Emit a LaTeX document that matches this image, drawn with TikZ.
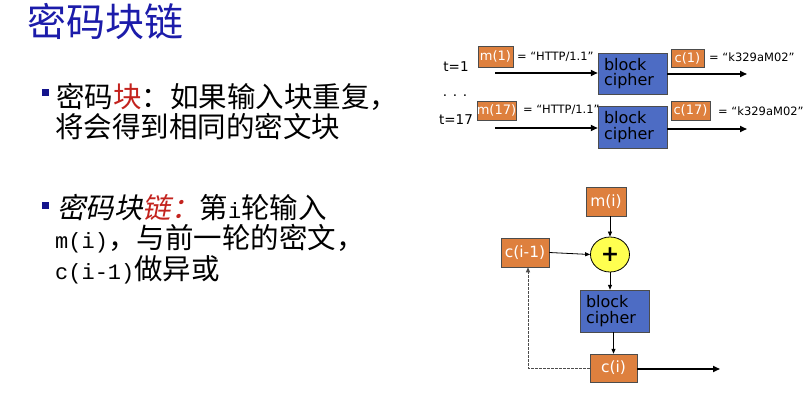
\documentclass[tikz,border=0pt]{standalone}
\usepackage{fontspec}
\setmainfont{Noto Sans CJK SC}
\newfontfamily\cjkit{Noto Sans CJK SC}[FakeSlant=0.2]
\newfontfamily\boxfont{DejaVu Sans}
\newfontfamily\monofnt{Liberation Mono}
\usetikzlibrary{arrows.meta,shapes.geometric}
\definecolor{boxorange}{RGB}{222,128,62}
\definecolor{boxblue}{RGB}{77,108,196}
\definecolor{titleblue}{RGB}{28,28,170}
\definecolor{redtxt}{RGB}{195,35,30}
\definecolor{bulletblue}{RGB}{20,20,140}
\definecolor{xoryellow}{RGB}{255,255,80}
\tikzset{
  orangebox/.style={rectangle, fill=boxorange, draw=gray!60!black, line width=0.5pt, text=white,
    font=\boxfont\fontsize{13}{15}\selectfont, inner sep=0pt},
  cipherbox/.style={rectangle, fill=boxblue, draw=gray!60!black, line width=0.5pt, text=black,
    font=\boxfont\fontsize{16}{15.5}\selectfont, inner xsep=6pt, text width=57pt, align=left,
    minimum height=41pt},
  eqtext/.style={font=\boxfont\fontsize{11.5}{13}\selectfont, anchor=west, inner sep=0pt},
  ttext/.style={font=\boxfont\fontsize{13.5}{15}\selectfont, inner sep=0pt},
  body/.style={font=\fontsize{28.5}{30}\selectfont, anchor=west, inner sep=0pt},
  bulletsq/.style={rectangle, fill=bulletblue, minimum size=7pt, inner sep=0pt},
  bigarrow/.style={line width=1.6pt, -{Triangle[length=7pt,width=6pt]}},
  thinarrow/.style={line width=0.8pt, -{Triangle[length=5pt,width=4pt]}},
  feedback/.style={line width=0.9pt, dashed, dash pattern=on 2.5pt off 1.5pt, draw=black!70,
    -{Triangle[length=5pt,width=4pt]}}
}
\newcommand{\mono}[1]{{\monofnt\fontsize{22}{30}\selectfont #1}}
\begin{document}
\begin{tikzpicture}[x=1pt,y=-1pt]
\useasboundingbox (0,0) rectangle (804,401);
% title
\node[font=\fontsize{39}{40}\selectfont, text=titleblue, anchor=west, inner sep=0pt] (title) at (27,22) {密码块链};
% bullets
\node[bulletsq] (b1) at (45,93) {};
\node[body] (l1) at (56,97) {密码{\color{redtxt}块}：如果输入块重复，};
\node[body] (l2) at (55,127) {将会得到相同的密文块};
\node[bulletsq] (b2) at (45,206) {};
\node[body] (l3) at (57,208) {{\cjkit 密码块{\color{redtxt}链：}}第\mono{i}轮输入};
\node[body] (l4) at (55,239) {\mono{m(i)}，与前一轮的密文，};
\node[body] (l5) at (55,270) {\mono{c(i-1)}做异或};
% top-right diagram
\node[ttext] (t1) at (456,67) {t=1};
\node[ttext] (dots) at (455,96) {. . .};
\node[ttext] (t17) at (456,120) {t=17};
\node[orangebox, minimum width=35pt, minimum height=21pt] (m1) at (495.5,56.5) {m(1)};
\node[eqtext] (e1) at (517,57) {= “HTTP/1.1”};
\node[cipherbox] (bc1) at (632.5,73.5) {block\\cipher};
\node[orangebox, minimum width=33pt, minimum height=18pt] (c1) at (687.5,58) {c(1)};
\node[eqtext] (k1) at (709,57) {= “k329aM02”};
\node[orangebox, minimum width=37pt, minimum height=19pt] (m17) at (496.5,110.5) {m(17)};
\node[eqtext] (e17) at (523,110) {= “HTTP/1.1”};
\node[cipherbox, minimum height=42pt] (bc2) at (632.5,127) {block\\cipher};
\node[orangebox, minimum width=39pt, minimum height=19pt] (c17) at (690.5,110.5) {c(17)};
\node[eqtext] (k17) at (718,111) {= “k329aM02”};
\coordinate (a1) at (495,73);
\coordinate (o1) at (747,74);
\coordinate (a2) at (495,128);
\coordinate (o2) at (747,129);
\draw[bigarrow] (a1) -- (a1 -| bc1.west);
\draw[bigarrow] (bc1.east |- o1) -- (o1);
\draw[bigarrow] (a2) -- (a2 -| bc2.west);
\draw[bigarrow] (bc2.east |- o2) -- (o2);
% bottom diagram
\node[orangebox, minimum width=40pt, minimum height=29pt, font=\boxfont\fontsize{15.5}{18}\selectfont] (mi) at (606,201.5) {m(i)};
\node[ellipse, fill=xoryellow, draw=black, line width=0.8pt, minimum width=39pt, minimum height=35pt, inner sep=0pt,
  font=\boxfont\bfseries\fontsize{22}{22}\selectfont] (xor) at (610,254.5) {+};
\node[orangebox, minimum width=48pt, minimum height=29pt, font=\boxfont\fontsize{15.5}{18}\selectfont] (cim1) at (525,252.5) {c(i-1)};
\node[cipherbox, minimum height=42pt] (bc) at (614.5,311) {block\\cipher};
\node[orangebox, minimum width=47pt, minimum height=28pt, font=\boxfont\fontsize{15.5}{18}\selectfont] (ci) at (613.5,368) {c(i)};
\coordinate (out) at (720,369);
\coordinate (fb) at (528,368);
\draw[thinarrow] (mi.south -| xor.north) -- (xor.north);
\draw[thinarrow] (cim1.east) -- (xor.west);
\draw[thinarrow] (xor.south) -- (bc.north -| xor.south);
\draw[thinarrow] (bc.south -| ci.north) -- (ci.north);
\draw[bigarrow] (ci.east |- out) -- (out);
\draw[feedback] (ci.west) -- (fb) -- (fb |- cim1.south);
\end{tikzpicture}
\end{document}
